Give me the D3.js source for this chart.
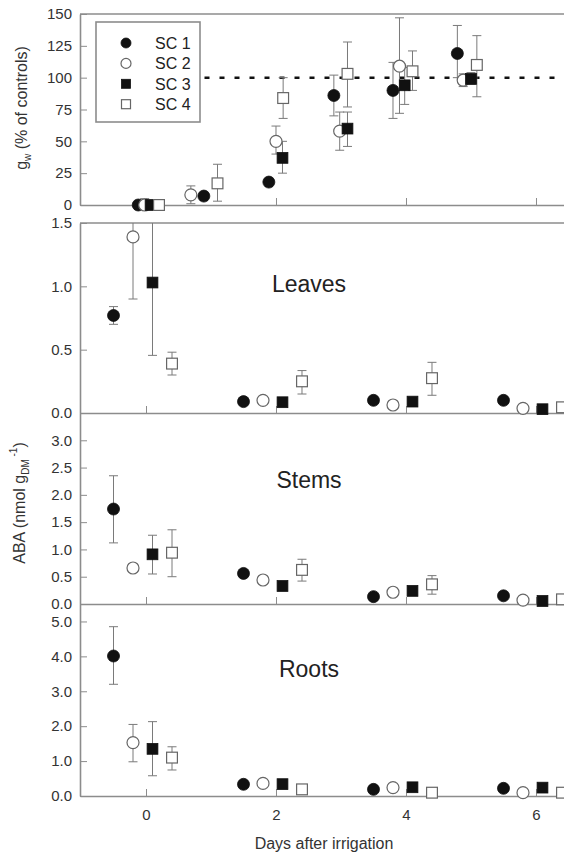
<!DOCTYPE html>
<html>
<head>
<meta charset="utf-8">
<script src="https://cdn.jsdelivr.net/npm/d3@7"></script>
<style>
  body { margin: 0; background: #fff; }
  text { font-family: "Liberation Sans", Arial, Helvetica, sans-serif; }
</style>
</head>
<body>
<svg id="chart" width="564" height="853"></svg>
<script>
// ---- data ----
var series = ["SC 1", "SC 2", "SC 3", "SC 4"];
var dayTicks = [0, 2, 4, 6];
var abaDays = [0, 2, 4, 6];
var dayShift = [-0.5, -0.2, 0.1, 0.4];   // where each series sits around a sampling day

// gw, % of controls: [day, mean, low, high]
var gwSC1 = [[-0.12, 0], [0.89, 7], [1.89, 18], [2.89, 86, 70, 102], [3.8, 90, 68, 112], [4.79, 119, 100, 141]];
var gwSC2 = [[-0.02, 0, 0, 5], [0.69, 8, 1, 15], [2.0, 50, 40, 62], [2.98, 58, 43, 73], [3.9, 109, 72, 147], [4.88, 98, 93, 103]];
var gwSC3 = [[0.07, 0], [2.1, 37, 25, 50], [3.1, 60, 46, 73], [3.98, 94, 79, 108], [5.0, 99, 95, 104]];
var gwSC4 = [[0.2, 0], [1.1, 17, 3, 32], [2.11, 84, 68, 100], [3.1, 103, 77, 128], [4.1, 105, 90, 121], [5.09, 110, 85, 133]];
var gwControl = 100;
var gwControlFrom = 0.9;

// ABA (nmol g DM-1) at days 0, 2, 4, 6: [mean, low, high]
var leavesSC1 = [[0.77, 0.70, 0.84], [0.09], [0.10], [0.10]];
var leavesSC2 = [[1.39, 0.90, 1.9], [0.10], [0.063], [0.037]];
var leavesSC3 = [[1.03, 0.455, 1.7], [0.085], [0.09], [0.03]];
var leavesSC4 = [[0.39, 0.30, 0.48], [0.25, 0.15, 0.335], [0.275, 0.14, 0.40], [0.045]];

var stemsSC1 = [[1.74, 1.12, 2.35], [0.56], [0.135], [0.15]];
var stemsSC2 = [[0.66], [0.44], [0.215], [0.07]];
var stemsSC3 = [[0.91, 0.55, 1.26], [0.33], [0.24], [0.055]];
var stemsSC4 = [[0.94, 0.50, 1.36], [0.625, 0.42, 0.82], [0.36, 0.18, 0.52], [0.085]];

var rootsSC1 = [[4.01, 3.2, 4.85], [0.335], [0.19], [0.22]];
var rootsSC2 = [[1.53, 0.98, 2.05], [0.36], [0.24], [0.095]];
var rootsSC3 = [[1.35, 0.58, 2.13], [0.34], [0.25], [0.24]];
var rootsSC4 = [[1.1, 0.745, 1.41], [0.19], [0.095], [0.095]];

var gwTicks = [0, 25, 50, 75, 100, 125, 150];
var leavesTicks = [0, 0.5, 1.0, 1.5];
var stemsTicks = [0, 0.5, 1.0, 1.5, 2.0, 2.5, 3.0];
var rootsTicks = [0, 1, 2, 3, 4, 5];

// ---- layout ----
var W = 564;
var left = 80;
var axisColor = "#8c8c8c";
var barColor = "#7a7a7a";
var svg = d3.select("#chart");

var x = d3.scaleLinear().domain([-1.0154, 6.4308]).range([left, W]);

// turn the ABA arrays into points
function abaPoints(arrs) {
    var pts = [];
    arrs.forEach(function(arr, s) {
        arr.forEach(function(r, i) {
            pts.push({s: s, d: abaDays[i] + dayShift[s], v: r[0], lo: r[1], hi: r[2]});
        });
    });
    return pts;
}
function gwPoints(arrs) {
    var pts = [];
    arrs.forEach(function(arr, s) {
        arr.forEach(function(r) {
            pts.push({s: s, d: r[0], v: r[1], lo: r[2], hi: r[3]});
        });
    });
    return pts;
}

var panels = [
    {id: "gw", top: 14, bottom: 205, domain: [0, 150], ticks: gwTicks, fmt: d3.format("d"),
     pts: gwPoints([gwSC1, gwSC2, gwSC3, gwSC4]), frame: true},
    {id: "leaves", top: 223, bottom: 413, domain: [0, 1.5], ticks: leavesTicks, fmt: d3.format(".1f"),
     pts: abaPoints([leavesSC1, leavesSC2, leavesSC3, leavesSC4]), frame: true, label: "Leaves", ly: 292},
    {id: "stems", top: 413, bottom: 604, domain: [0, 3.5], ticks: stemsTicks, fmt: d3.format(".1f"),
     pts: abaPoints([stemsSC1, stemsSC2, stemsSC3, stemsSC4]), label: "Stems", ly: 488},
    {id: "roots", top: 604, bottom: 796, domain: [0, 5.5], ticks: rootsTicks, fmt: d3.format(".1f"),
     pts: abaPoints([rootsSC1, rootsSC2, rootsSC3, rootsSC4]), label: "Roots", ly: 677, xlabels: true}
];

// marker drawing, series 0..3 = filled circle, open circle, filled square, open square
function marker(g, s, cx, cy, size) {
    var filled = (s === 0 || s === 2);
    var m;
    if (s < 2) {
        m = g.append("circle").attr("cx", cx).attr("cy", cy).attr("r", size / 2);
    } else {
        var a = size * 0.9;
        m = g.append("rect").attr("x", cx - a / 2).attr("y", cy - a / 2).attr("width", a).attr("height", a);
    }
    m.attr("fill", filled ? "#111" : "#fff")
     .attr("stroke", filled ? "#111" : "#666")
     .attr("stroke-width", filled ? 0.8 : 1.2);
}

panels.forEach(function(p) {
    var y = d3.scaleLinear().domain(p.domain).range([p.bottom, p.top]);
    var g = svg.append("g");

    svg.append("clipPath").attr("id", "clip-" + p.id)
        .append("rect").attr("x", left).attr("y", p.top).attr("width", W - left).attr("height", p.bottom - p.top + 10);

    // frame line on top
    if (p.frame) {
        g.append("line").attr("x1", left).attr("x2", W).attr("y1", p.top).attr("y2", p.top)
            .attr("stroke", axisColor).attr("stroke-width", 1.6);
    }

    // y axis
    var ya = g.append("g").attr("transform", "translate(" + left + ",0)")
        .call(d3.axisLeft(y).tickValues(p.ticks).tickFormat(p.fmt).tickSizeInner(-7).tickSizeOuter(0).tickPadding(8));
    // x axis
    var xa = g.append("g").attr("transform", "translate(0," + p.bottom + ")")
        .call(d3.axisBottom(x).tickValues(dayTicks).tickSizeInner(-7).tickSizeOuter(0).tickPadding(13)
            .tickFormat(p.xlabels ? d3.format("d") : ""));
    [ya, xa].forEach(function(a) {
        a.select(".domain").attr("stroke", axisColor).attr("stroke-width", 1.6);
        a.selectAll(".tick line").attr("stroke", axisColor).attr("stroke-width", 1);
        a.selectAll(".tick text").attr("fill", "#333").style("font-size", "15px")
            .style("font-family", "'Liberation Sans', Arial, sans-serif");
    });

    // control reference line
    if (p.id === "gw") {
        g.append("line")
            .attr("x1", x(gwControlFrom)).attr("x2", W)
            .attr("y1", y(gwControl)).attr("y2", y(gwControl))
            .attr("stroke", "#111").attr("stroke-width", 2.5).attr("stroke-dasharray", "5,10");
    }

    // error bars
    var eb = g.append("g").attr("clip-path", "url(#clip-" + p.id + ")");
    p.pts.filter(function(d) { return d.lo != null; }).forEach(function(d) {
        var cx = x(d.d);
        eb.append("line").attr("x1", cx).attr("x2", cx).attr("y1", y(d.lo)).attr("y2", y(d.hi))
            .attr("stroke", barColor).attr("stroke-width", 1);
        [d.lo, d.hi].forEach(function(v) {
            eb.append("line").attr("x1", cx - 4.5).attr("x2", cx + 4.5).attr("y1", y(v)).attr("y2", y(v))
                .attr("stroke", barColor).attr("stroke-width", 1);
        });
    });

    // markers
    var mk = g.append("g");
    p.pts.forEach(function(d) {
        marker(mk, d.s, x(d.d), y(d.v), 12);
    });

    // organ label
    if (p.label) {
        g.append("text").attr("x", 309).attr("y", p.ly).attr("text-anchor", "middle")
            .style("font-size", "23px").attr("fill", "#222").text(p.label);
    }
});

// legend
var lg = svg.append("g");
lg.append("rect").attr("x", 96).attr("y", 22).attr("width", 104).attr("height", 100)
    .attr("fill", "#fff").attr("stroke", axisColor).attr("stroke-width", 1.6);
series.forEach(function(name, s) {
    var ry = 43 + s * 20.4;
    marker(lg, s, 126, ry, 10);
    lg.append("text").attr("x", 155).attr("y", ry + 6).style("font-size", "16px").attr("fill", "#222").text(name);
});

// axis titles
var t1 = svg.append("text").attr("transform", "translate(27,108) rotate(-90)")
    .attr("text-anchor", "middle").style("font-size", "16px").attr("fill", "#333");
t1.append("tspan").text("g");
t1.append("tspan").attr("dy", 4).style("font-size", "10px").text("w");
t1.append("tspan").attr("dy", -4).text(" (% of controls)");

var t2 = svg.append("text").attr("transform", "translate(25,503) rotate(-90)")
    .attr("text-anchor", "middle").style("font-size", "16px").attr("fill", "#333");
t2.append("tspan").text("ABA (nmol g");
t2.append("tspan").attr("dy", 4).style("font-size", "10px").text("DM");
t2.append("tspan").attr("dy", -12).style("font-size", "10px").text(" -1");
t2.append("tspan").attr("dy", 8).text(")");

svg.append("text").attr("x", 324).attr("y", 849).attr("text-anchor", "middle")
    .style("font-size", "16px").attr("fill", "#333").text("Days after irrigation");
</script>
</body>
</html>
